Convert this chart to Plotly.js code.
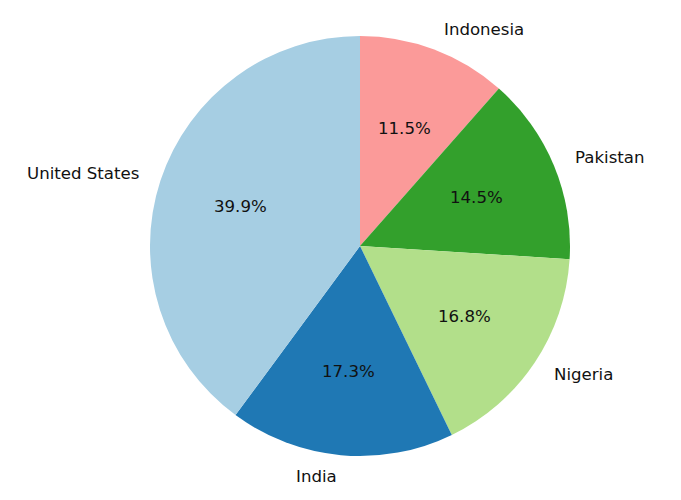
<!DOCTYPE html>
<html>
<head>
<meta charset="utf-8">
<script src="https://cdn.plot.ly/plotly-3.0.1.min.js"></script>
<style>html,body{margin:0;padding:0;background:#fff;}#chart{width:681px;height:500px;}</style>
</head>
<body>
<div id="chart"></div>
<script>
const countries = ["United States", "India", "Nigeria", "Pakistan", "Indonesia"];
const shares = [39.9, 17.3, 16.8, 14.5, 11.5];
const colors = ["#a6cee3", "#1f78b4", "#b2df8a", "#33a02c", "#fb9a99"];

const cx = 360, cy = 246, r = 210, W = 681, H = 500;
const domain = {x: [(cx - r) / W, (cx + r) / W], y: [(H - cy - r) / H, (H - cy + r) / H]};
const font = {family: "DejaVu Sans", size: 16.6, color: "#111"};

// matplotlib draws counterclockwise from 12 o'clock; in Plotly that is the
// reversed order drawn clockwise from 12 o'clock.
const pie = {
  type: "pie", labels: countries.slice().reverse(), values: shares.slice().reverse(),
  sort: false, direction: "clockwise", rotation: 0,
  marker: {colors: colors.slice().reverse(), line: {width: 0}},
  textinfo: "none", domain: domain, hoverinfo: "skip", showlegend: false,
  automargin: false
};

// matplotlib-style text placement: percent at 0.6 r, label at 1.1 r
const total = shares.reduce((a, b) => a + b, 0);
const annotations = [];
let cum = 0;
shares.forEach((v, i) => {
  const theta = (90 + 360 * (cum + v / 2) / total) * Math.PI / 180;
  cum += v;
  const c = Math.cos(theta), s = Math.sin(theta);
  annotations.push({
    xref: "paper", yref: "paper", showarrow: false,
    x: (cx + 0.6 * r * c) / W, y: 1 - (cy - 0.6 * r * s) / H,
    xanchor: "center", yanchor: "middle",
    text: (100 * v / total).toFixed(1) + "%", font: font
  });
  annotations.push({
    xref: "paper", yref: "paper", showarrow: false,
    x: (cx + 1.1 * r * c) / W, y: 1 - (cy - 1.1 * r * s) / H,
    xanchor: c > 0 ? "left" : "right", yanchor: "middle",
    text: countries[i], font: font
  });
});

Plotly.newPlot("chart", [pie], {
  width: W, height: H, margin: {l: 0, r: 0, t: 0, b: 0},
  paper_bgcolor: "#fff", showlegend: false, annotations: annotations
}, {staticPlot: true});
</script>
</body>
</html>
